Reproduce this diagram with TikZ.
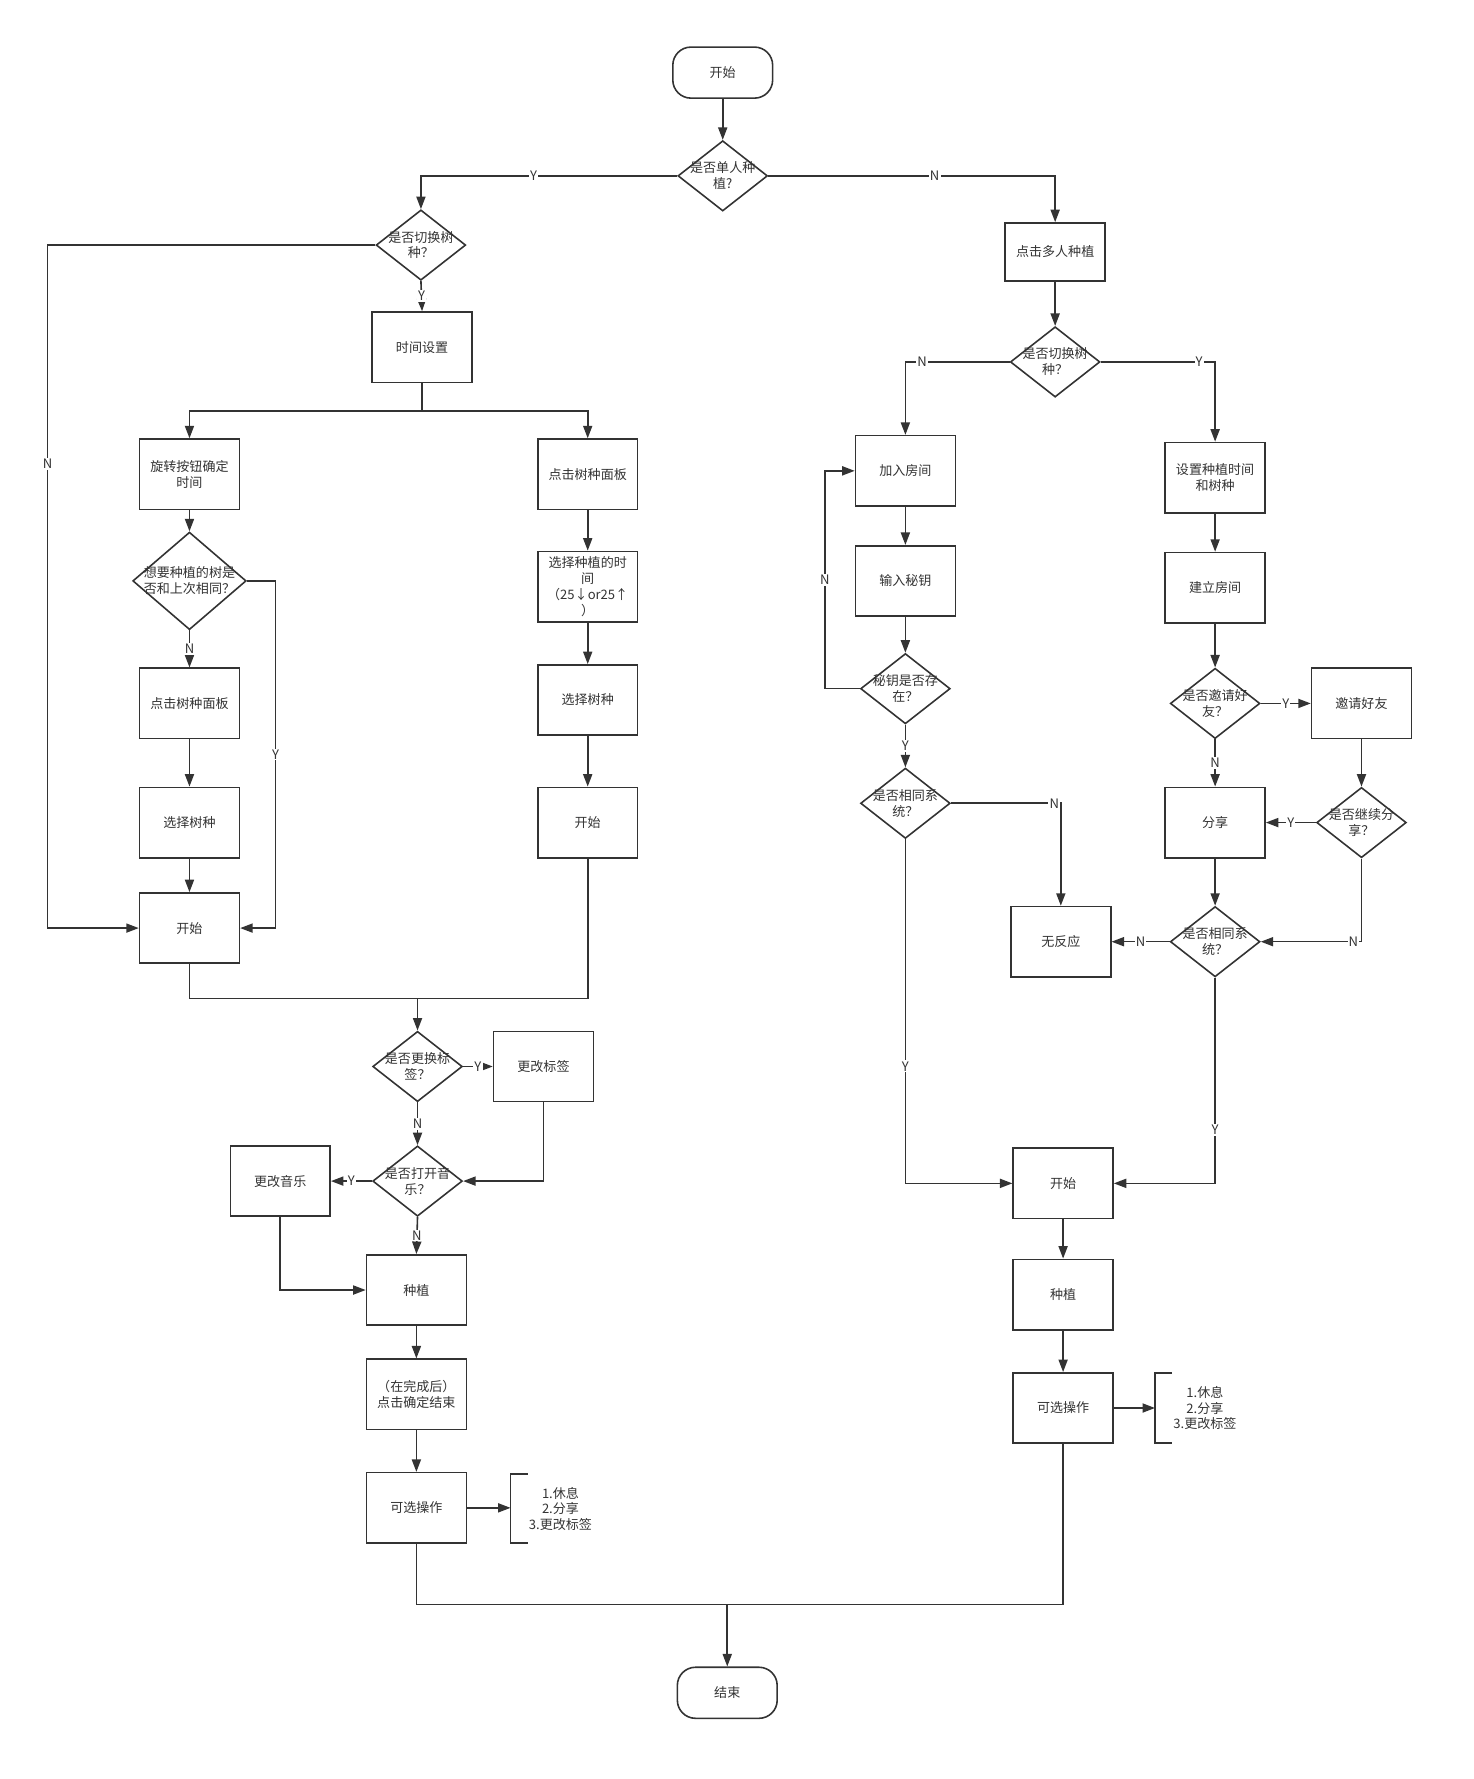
\documentclass[tikz,border=0pt]{standalone}
\usepackage{fontspec}
\setmainfont{Noto Sans CJK SC}
\usetikzlibrary{arrows.meta,shapes.geometric}
\definecolor{ink}{HTML}{333333}
\tikzset{
  terminal/.style={rectangle, rounded corners=16pt, draw=ink, line width=1.4pt, minimum width=88pt, minimum height=45pt, text=ink},
  process/.style={rectangle, draw=ink, line width=1.4pt, minimum width=88pt, minimum height=62pt, inner sep=2pt, align=center, text=ink},
  decision/.style={diamond, draw=ink, line width=1.4pt, minimum width=79pt, minimum height=62pt, inner sep=0pt},
  dtext/.style={align=center, text=ink, inner sep=0pt},
  arrow/.style={-{Triangle[length=11pt,width=8pt]}, draw=ink, line width=1.4pt},
  line/.style={draw=ink, line width=1.4pt},
  yn/.style={fill=white, text=ink, inner sep=1pt},
  optlist/.style={align=center, text=ink}
}

\begin{document}
\begin{tikzpicture}[x=1pt, y=-1pt, font=\fontsize{11.5}{14}\selectfont]
  \useasboundingbox (0,0) rectangle (1299,1568);

  % top
  \node[terminal] (start) at (637,64) {开始};
  \node[decision, label={[dtext]center:是否单人种\\植?}] (single) at (637,155) {};

  % single planting
  \node[decision, label={[dtext]center:是否切换树\\种？}] (switch) at (371,216) {};
  \node[process] (time) at (372,306) {时间设置};
  \node[process] (rotate) at (167,418) {旋转按钮确定\\时间};
  \node[decision, minimum width=100pt, minimum height=86pt, label={[dtext]center:想要种植的树是\\否和上次相同？}] (same) at (167,512) {};
  \node[process] (panelA) at (167,620) {点击树种面板};
  \node[process] (pickA) at (167,725) {选择树种};
  \node[process] (beginA) at (167,818) {开始};
  \node[process] (panelB) at (518,418) {点击树种面板};
  \node[process] (timeB) at (518,517) {选择种植的时\\间\\（25↓or25↑\\）};
  \node[process] (pickB) at (518,617) {选择树种};
  \node[process] (beginB) at (518,725) {开始};

  \node[decision, label={[dtext]center:是否更换标\\签？}] (tag) at (368,940) {};
  \node[process] (tagBox) at (479,940) {更改标签};
  \node[decision, label={[dtext]center:是否打开音\\乐？}] (music) at (368,1041) {};
  \node[process] (musicBox) at (247,1041) {更改音乐};
  \node[process] (plantA) at (367,1137) {种植};
  \node[process] (finish) at (367,1229) {（在完成后）\\点击确定结束};
  \node[process] (optA) at (367,1329) {可选操作};
  \node[optlist] (listA) at (494,1330) {1.休息\\2.分享\\3.更改标签};

  % multi planting
  \node[process, minimum height=51pt] (multi) at (930,222) {点击多人种植};
  \node[decision, label={[dtext]center:是否切换树\\种？}] (switchM) at (930,319) {};
  \node[process] (join) at (798,415) {加入房间};
  \node[process] (key) at (798,512) {输入秘钥};
  \node[decision, label={[dtext]center:秘钥是否存\\在？}] (keyOk) at (798,607) {};
  \node[decision, label={[dtext]center:是否相同系\\统？}] (sysA) at (798,708) {};
  \node[process] (none) at (935,830) {无反应};
  \node[process] (setup) at (1071,421) {设置种植时间\\和树种};
  \node[process] (room) at (1071,518) {建立房间};
  \node[decision, label={[dtext]center:是否邀请好\\友？}] (invite) at (1071,620) {};
  \node[process] (inviteBox) at (1200,620) {邀请好友};
  \node[process] (share) at (1071,725) {分享};
  \node[decision, label={[dtext]center:是否继续分\\享？}] (again) at (1200,725) {};
  \node[decision, label={[dtext]center:是否相同系\\统？}] (sysB) at (1071,830) {};
  \node[process] (beginM) at (937,1043) {开始};
  \node[process] (plantM) at (937,1141) {种植};
  \node[process] (optM) at (937,1241) {可选操作};
  \node[optlist] (listM) at (1062,1241) {1.休息\\2.分享\\3.更改标签};

  \node[terminal] (end) at (641,1492) {结束};

  % bends
  \coordinate (nA) at (42,216);
  \coordinate (fork) at (372,362);
  \coordinate (ySame) at (243,512);
  \coordinate (joinA) at (368,880);
  \coordinate (brA) at (450,1329);
  \coordinate (keyN) at (727,607);
  \coordinate (brM) at (1018,1241);
  \coordinate (joinEnd) at (641,1414);

  % edges
  \draw[arrow] (start) -- (single);
  \draw[arrow] (single.west) -| node[yn, pos=0.28]{Y} (switch.north);
  \draw[arrow] (single.east) -| node[yn, pos=0.29]{N} (multi.north);

  \draw[arrow] (switch.west) -- (nA) |- node[yn, pos=0.16]{N} (beginA.west);
  \draw[arrow] (switch.south) -- node[yn]{Y} (time.north);
  \draw[line] (time.south) -- (fork);
  \draw[arrow] (fork) -| (rotate.north);
  \draw[arrow] (fork) -| (panelB.north);
  \draw[arrow] (rotate) -- (same);
  \draw[arrow] (same.south) -- node[yn]{N} (panelA.north);
  \draw[arrow] (same.east) -- (ySame) |- node[yn, pos=0.25]{Y} (beginA.east);
  \draw[arrow] (panelA) -- (pickA);
  \draw[arrow] (pickA) -- (beginA);
  \draw[arrow] (panelB) -- (timeB);
  \draw[arrow] (timeB) -- (pickB);
  \draw[arrow] (pickB) -- (beginB);
  \draw[line] (beginA.south) |- (joinA);
  \draw[line] (beginB.south) |- (joinA);
  \draw[arrow] (joinA) -- (tag.north);

  \draw[arrow] (tag.east) -- node[yn]{Y} (tagBox.west);
  \draw[arrow] (tag.south) -- node[yn]{N} (music.north);
  \draw[arrow] (tagBox.south) |- (music.east);
  \draw[arrow] (music.west) -- node[yn]{Y} (musicBox.east);
  \draw[arrow] (music.south) -- node[yn]{N} (plantA.north);
  \draw[arrow] (musicBox.south) |- (plantA.west);
  \draw[arrow] (plantA) -- (finish);
  \draw[arrow] (finish) -- (optA);
  \draw[arrow] (optA.east) -- (brA);
  \draw[line] (465,1299) -| (450,1360) -- (465,1360);

  \draw[arrow] (multi) -- (switchM);
  \draw[arrow] (switchM.west) -| node[yn, pos=0.42]{N} (join.north);
  \draw[arrow] (switchM.east) -| node[yn, pos=0.43]{Y} (setup.north);
  \draw[arrow] (join) -- (key);
  \draw[arrow] (key) -- (keyOk);
  \draw[arrow] (keyOk.west) -- (keyN) |- node[yn, pos=0.25]{N} (join.west);
  \draw[arrow] (keyOk.south) -- node[yn]{Y} (sysA.north);
  \draw[arrow] (sysA.east) -| node[yn, pos=0.47]{N} (none.north);
  \draw[arrow] (sysA.south) |- node[yn, pos=0.33]{Y} (beginM.west);
  \draw[arrow] (setup) -- (room);
  \draw[arrow] (room) -- (invite);
  \draw[arrow] (invite.east) -- node[yn]{Y} (inviteBox.west);
  \draw[arrow] (invite.south) -- node[yn]{N} (share.north);
  \draw[arrow] (inviteBox.south) -- (again.north);
  \draw[arrow] (again.west) -- node[yn]{Y} (share.east);
  \draw[arrow] (again.south) |- node[yn, pos=0.54]{N} (sysB.east);
  \draw[arrow] (share) -- (sysB);
  \draw[arrow] (sysB.west) -- node[yn]{N} (none.east);
  \draw[arrow] (sysB.south) |- node[yn, pos=0.37]{Y} (beginM.east);
  \draw[arrow] (beginM) -- (plantM);
  \draw[arrow] (plantM) -- (optM);
  \draw[arrow] (optM.east) -- (brM);
  \draw[line] (1033,1210) -| (1018,1272) -- (1033,1272);

  \draw[line] (optA.south) |- (joinEnd);
  \draw[line] (optM.south) |- (joinEnd);
  \draw[arrow] (joinEnd) -- (end.north);
\end{tikzpicture}
\end{document}
